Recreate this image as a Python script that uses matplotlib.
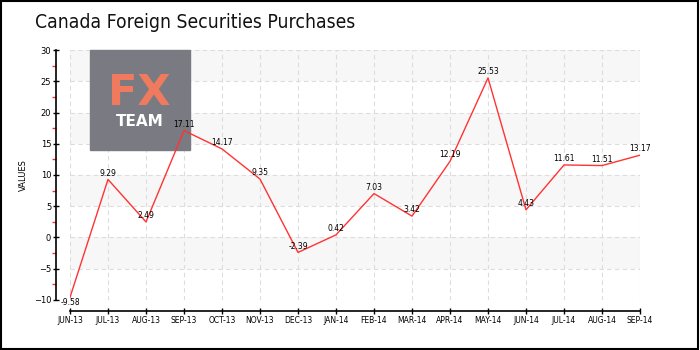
import matplotlib
matplotlib.use('Agg')
import matplotlib.pyplot as plt
from matplotlib.patches import Rectangle
from matplotlib.ticker import MultipleLocator

months = ['JUN-13', 'JUL-13', 'AUG-13', 'SEP-13', 'OCT-13', 'NOV-13', 'DEC-13', 'JAN-14',
          'FEB-14', 'MAR-14', 'APR-14', 'MAY-14', 'JUN-14', 'JUL-14', 'AUG-14', 'SEP-14']
values = [-9.58, 9.29, 2.49, 17.11, 14.17, 9.35, -2.39, 0.42,
          7.03, 3.42, 12.19, 25.53, 4.43, 11.61, 11.51, 13.17]
title = 'Canada Foreign Securities Purchases'

fig = plt.figure(figsize=(7, 3.5), dpi=100)
ax = fig.add_axes([0.1, 0.1429, 0.8143, 0.7142])

x = list(range(len(months)))
ax.set_xlim(0, len(months) - 1)
ax.set_ylim(-10, 30)

# alternating bands
for lo in [25, 15, 5, -5]:
    ax.axhspan(lo, lo + 5, color='#f7f7f7', zorder=0, lw=0)

ax.grid(True, color='#dddddd', linestyle=(0, (4, 3)), linewidth=0.8)
ax.set_axisbelow(True)

ax.plot(x, values, color='#ff3333', linewidth=1, zorder=3)

for i, v in enumerate(values):
    dy = -3.5 if i == 0 else 4.6
    ax.annotate('%.2f' % v, (i, v), xytext=(0, dy), textcoords='offset points',
                ha='center', va='center', fontsize=5.5, color='black', zorder=4,
                family='DejaVu Sans')

ax.set_xticks(x)
ax.set_xticklabels(months)
ax.yaxis.set_major_locator(MultipleLocator(5))
ax.yaxis.set_minor_locator(MultipleLocator(2.5))
ax.tick_params(axis='y', which='major', direction='inout', length=5, width=1, labelsize=6, pad=1)
ax.tick_params(axis='y', which='minor', direction='out', length=3, width=1, color='#ff3333')
ax.tick_params(axis='x', which='major', direction='inout', length=5, width=1, pad=1, labelsize=5.5)

for s in ['top', 'right']:
    ax.spines[s].set_visible(False)
ax.spines['left'].set_position(('outward', 10))
ax.spines['bottom'].set_position(('outward', 8))
ax.spines['left'].set_linewidth(1.2)
ax.spines['bottom'].set_linewidth(1.2)

ax.set_ylabel('VALUES', fontsize=6, labelpad=4)

fig.text(35 / 700, 1 - 22 / 350, title, fontsize=13.9, va='center', ha='left',
         family='DejaVu Sans', fontstretch='condensed', color='#111111')

# logo overlay, above grid but below the line
ax.add_patch(Rectangle((90 / 700, 1 - 150 / 350), 100 / 700, 100 / 350,
                       transform=fig.transFigure, color='#7a7a82', zorder=2, clip_on=False))
ax.text(139 / 700, 1 - 93 / 350, 'FX', fontsize=31, fontweight='bold', color='#f07a5e',
        ha='center', va='center', zorder=2.5, transform=fig.transFigure, family='DejaVu Sans')
ax.text(140 / 700, 1 - 122 / 350, 'TEAM', fontsize=11, fontweight='bold', color='white',
        ha='center', va='center', zorder=2.5, transform=fig.transFigure, family='DejaVu Sans')

fig.patches.append(Rectangle((0.0015, 0.003), 0.995, 0.994, transform=fig.transFigure,
                             fill=False, edgecolor='black', linewidth=1.5))

fig.savefig('out.png', dpi=100)
